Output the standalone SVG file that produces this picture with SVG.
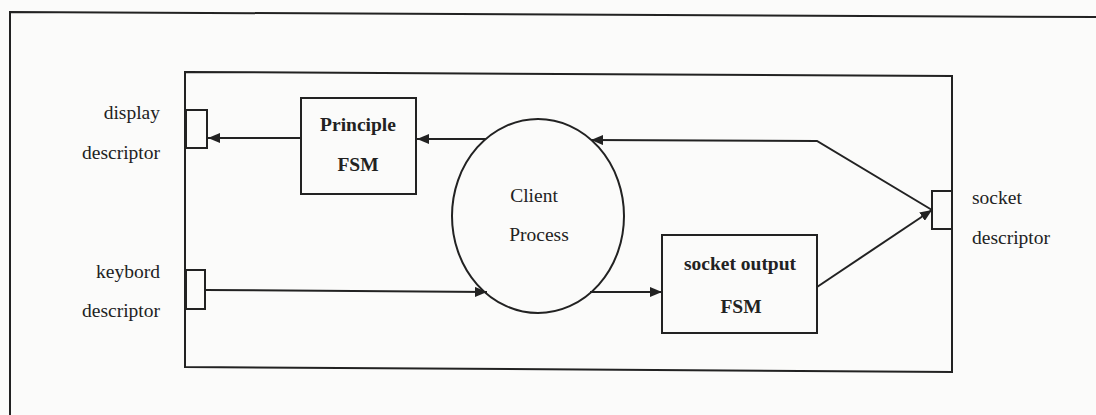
<svg xmlns="http://www.w3.org/2000/svg" width="1096" height="415" viewBox="0 0 1096 415">
  <style>
    .ln { fill: none; stroke: #222; stroke-width: 2; }
    .box { fill: none; stroke: #222; stroke-width: 2; }
    .t { font-family: "Liberation Serif", "Times New Roman", serif; font-size: 19.5px; fill: #222; }
    .b { font-weight: bold; }
    .m { text-anchor: middle; }
    .r { text-anchor: end; }
  </style>
  <defs>
    <marker id="arr" markerUnits="userSpaceOnUse" markerWidth="12" markerHeight="10" viewBox="0 0 12 10" refX="12" refY="5" orient="auto">
      <path d="M0,0 L12,5 L0,10 Z" fill="#222"/>
    </marker>
  </defs>
  <rect x="0" y="0" width="1096" height="415" fill="#fbfbfa"/>

  <g id="frame">
    <polyline class="ln" points="1096,17 10,12 10,415"/>
    <polygon class="ln" points="185,72 952,76 952,372 185,367"/>
  </g>

  <g id="display-port">
    <rect class="box" x="186" y="110" width="21" height="38" fill="none"/>
    <text class="t r" x="160" y="119">display</text>
    <text class="t r" x="160" y="159">descriptor</text>
  </g>

  <g id="keyboard-port">
    <rect class="box" x="186" y="270" width="19" height="39"/>
    <text class="t r" x="160" y="278">keybord</text>
    <text class="t r" x="160" y="317">descriptor</text>
  </g>

  <g id="socket-port">
    <rect class="box" x="932" y="191" width="20" height="38"/>
    <text class="t" x="972" y="204">socket</text>
    <text class="t" x="972" y="244">descriptor</text>
  </g>

  <g id="principle-fsm">
    <rect class="box" x="301" y="98" width="115" height="96"/>
    <text class="t b m" x="358" y="131">Principle</text>
    <text class="t b m" x="358" y="171">FSM</text>
  </g>

  <g id="client-process">
    <ellipse class="box" cx="538" cy="216" rx="86" ry="97"/>
    <text class="t m" x="534" y="202">Client</text>
    <text class="t m" x="539" y="241">Process</text>
  </g>

  <g id="socket-output-fsm">
    <rect class="box" x="662" y="235" width="155" height="98"/>
    <text class="t b m" x="740" y="270">socket output</text>
    <text class="t b m" x="741" y="313">FSM</text>
  </g>

  <g id="connectors">
    <line class="ln" x1="301" y1="138" x2="208" y2="138" marker-end="url(#arr)"/>
    <line class="ln" x1="486" y1="139" x2="417" y2="139" marker-end="url(#arr)"/>
    <polyline class="ln" points="932,210 817,141 591,140" marker-end="url(#arr)"/>
    <line class="ln" x1="205" y1="290" x2="487" y2="292" marker-end="url(#arr)"/>
    <line class="ln" x1="590" y1="292" x2="662" y2="292" marker-end="url(#arr)"/>
    <line class="ln" x1="817" y1="287" x2="932" y2="210" marker-end="url(#arr)"/>
  </g>
</svg>
